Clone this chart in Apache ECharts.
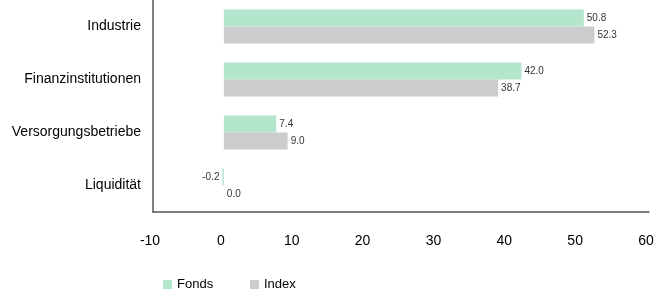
<!DOCTYPE html>
<html><head><meta charset="utf-8">
<script src="https://cdn.jsdelivr.net/npm/echarts@6/dist/echarts.min.js"></script>
<style>html,body{margin:0;padding:0;background:#fff}#c{width:654px;height:291px}</style>
</head><body><div id="c"></div>
<script>
const categories = ['Industrie', 'Finanzinstitutionen', 'Versorgungsbetriebe', 'Liquidität'];
const fonds = [50.8, 42.0, 7.4, -0.2];
const index = [52.3, 38.7, 9.0, 0.0];
const seriesNames = ['Fonds', 'Index'];

const FONT = 'Arial, "Liberation Sans", sans-serif';
const chart = echarts.init(document.getElementById('c'), null, {renderer: 'canvas'});
const lbl = {
  show: true,
  position: 'right',
  distance: 3,
  fontSize: 10,
  fontFamily: FONT,
  color: '#333',
  formatter: p => p.value.toFixed(1)
};
function mk(name, data, color) {
  return {
    name, type: 'bar', data: data.map(v => ({value: v, label: v < 0 ? {position: 'left'} : {}})),
    itemStyle: {color}, barWidth: 17, barGap: '0%',
    label: lbl
  };
}
const legendText = {fontSize: 13, color: '#000', fontFamily: FONT};
chart.setOption({
  animation: false,
  textStyle: {fontFamily: FONT},
  grid: {left: 153, right: 5, top: 0, height: 212, containLabel: false, outerBoundsMode: 'none'},
  legend: [
    {top: 273, left: 158, itemWidth: 9, itemHeight: 9, icon: 'rect', textStyle: legendText, data: [seriesNames[0]]},
    {top: 273, left: 245, itemWidth: 9, itemHeight: 9, icon: 'rect', textStyle: legendText, data: [seriesNames[1]]}
  ],
  xAxis: {
    type: 'value', min: -10, max: 60, interval: 10,
    splitLine: {show: false},
    axisLine: {show: true, onZero: false, lineStyle: {color: '#555', width: 1.5}},
    axisTick: {show: false},
    axisLabel: {fontSize: 14, color: '#000', margin: 22, padding: [0, 6, 0, 0]}
  },
  yAxis: {
    type: 'category', data: categories, inverse: true,
    axisLine: {show: true, onZero: false, lineStyle: {color: '#555', width: 1.5}},
    axisTick: {show: false},
    axisLabel: {fontSize: 14, color: '#000', margin: 12}
  },
  series: [mk(seriesNames[0], fonds, '#b3e6cc'), mk(seriesNames[1], index, '#cccccc')]
});
</script></body></html>
